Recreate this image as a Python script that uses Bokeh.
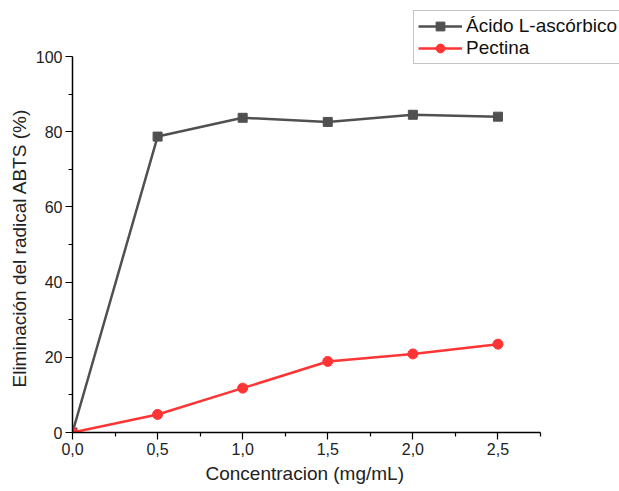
from bokeh.plotting import figure
from bokeh.models import Range1d, FixedTicker, Legend, LegendItem, Title
from bokeh.embed import file_html
from bokeh.resources import INLINE

conc = [0.0, 0.5, 1.0, 1.5, 2.0, 2.5]
ascorbico = [0.0, 78.7, 83.7, 82.6, 84.5, 84.0]
pectina = [0.0, 4.8, 11.8, 18.9, 20.9, 23.5]
x_ticks = [0.0, 0.5, 1.0, 1.5, 2.0, 2.5]
x_tick_labels = ["0,0", "0,5", "1,0", "1,5", "2,0", "2,5"]
y_ticks = [0, 20, 40, 60, 80, 100]
x_label = "Concentracion (mg/mL)"
y_label = "Eliminación del radical ABTS (%)"

FONT = "Liberation Sans"
X_END = 2.75
Y_END = 100

# frame spans to the right edge / top so the legend can reach there;
# the axes themselves are limited with bounds
p = figure(width=619, height=491, output_backend="svg", toolbar_location=None,
           x_range=Range1d(0, X_END * 547 / 468), y_range=Range1d(0, Y_END * 432 / 376),
           min_border_left=72, min_border_right=0, min_border_top=0, min_border_bottom=59)
p.outline_line_color = None
p.grid.visible = False
p.background_fill_color = "white"
p.border_fill_color = "white"

l1 = p.line(conc, ascorbico, line_color="#505050", line_width=2.5)
s1 = p.scatter(conc, ascorbico, marker="square", size=9, fill_color="#505050", line_color="#505050")
l2 = p.line(conc, pectina, line_color="#ff3535", line_width=2.5)
s2 = p.scatter(conc, pectina, marker="circle", size=10, fill_color="#ff3535", line_color="#ff3535")

p.xaxis.ticker = FixedTicker(ticks=x_ticks, minor_ticks=[0.25, 0.75, 1.25, 1.75, 2.25, 2.75])
p.xaxis.major_label_overrides = {t: s for t, s in zip(x_ticks, x_tick_labels)}
p.yaxis.ticker = FixedTicker(ticks=y_ticks, minor_ticks=[10, 30, 50, 70, 90])
p.xaxis.bounds = (0, X_END)
p.yaxis.bounds = (0, Y_END)

for ax in (p.xaxis[0], p.yaxis[0]):
    ax.axis_line_color = "black"
    ax.axis_line_width = 1.5
    ax.major_tick_line_color = "black"
    ax.minor_tick_line_color = "black"
    ax.major_tick_line_width = 1.2
    ax.minor_tick_line_width = 1.2
    ax.major_tick_in = 0
    ax.major_tick_out = 7
    ax.minor_tick_in = 0
    ax.minor_tick_out = 4
    ax.major_label_text_font = FONT
    ax.major_label_text_font_size = "16px"
    ax.major_label_text_color = "#222222"
    ax.major_label_standoff = 3

# axis titles placed along the bounded part of each axis
xt = Title(text=x_label, align="left", offset=133, standoff=7,
           text_font=FONT, text_font_size="19px", text_font_style="normal", text_color="#222222")
yt = Title(text=y_label, align="left", offset=45, standoff=5,
           text_font=FONT, text_font_size="19px", text_font_style="normal", text_color="#222222")
p.add_layout(xt, "below")
p.add_layout(yt, "left")

legend = Legend(items=[LegendItem(label="Ácido L-ascórbico", renderers=[l1, s1]),
                       LegendItem(label="Pectina", renderers=[l2, s2])],
                location=(341, 368))
legend.label_text_font = FONT
legend.label_text_font_size = "19px"
legend.label_text_color = "#111111"
legend.glyph_width = 44
legend.label_standoff = 4
legend.spacing = 0
legend.padding = 4
legend.margin = 0
legend.label_height = 22
legend.glyph_height = 22
legend.border_line_color = "#888888"
legend.border_line_width = 1
legend.background_fill_alpha = 1
p.add_layout(legend, "center")

open("out.html", "w").write(file_html(p, INLINE))
